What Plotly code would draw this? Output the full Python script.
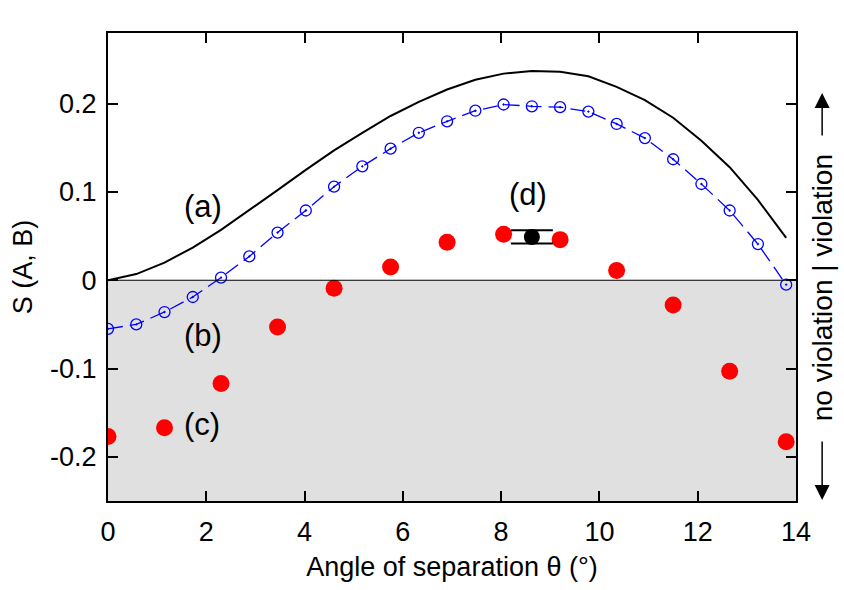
import plotly.graph_objects as go

# ---- data ----
theta = [0.0, 0.575, 1.15, 1.725, 2.3, 2.875, 3.45, 4.025, 4.6, 5.175, 5.75, 6.325,
         6.9, 7.475, 8.05, 8.625, 9.2, 9.775, 10.35, 10.925, 11.5, 12.075, 12.65,
         13.225, 13.8]
curve_a = [0.0, 0.007, 0.020, 0.037, 0.057, 0.079, 0.102, 0.125, 0.147, 0.167, 0.186,
           0.202, 0.216, 0.227, 0.234, 0.237, 0.236, 0.231, 0.219, 0.204, 0.184,
           0.158, 0.128, 0.091, 0.048]
curve_b = [-0.055, -0.050, -0.036, -0.019, 0.003, 0.027, 0.054, 0.079, 0.106, 0.129,
           0.149, 0.167, 0.180, 0.192, 0.199, 0.197, 0.196, 0.191, 0.177, 0.161,
           0.137, 0.109, 0.079, 0.041, -0.005]
theta_c = [0.0, 1.15, 2.3, 3.45, 4.6, 5.75, 6.9, 8.05, 9.2, 10.35, 11.5, 12.65, 13.8]
points_c = [-0.177, -0.167, -0.117, -0.053, -0.009, 0.015, 0.043, 0.052, 0.046,
            0.011, -0.028, -0.103, -0.183]
theta_d = [8.625]
points_d = [0.049]
err_d = [0.0075]

labels = ["(a)", "(b)", "(c)", "(d)"]
label_x = [1.94, 1.94, 1.92, 8.55]
label_y = [0.083, -0.0625, -0.163, 0.0966]

FONT = "Liberation Sans, Arial, Helvetica, sans-serif"

fig = go.Figure()

fig.add_trace(go.Scatter(x=theta, y=curve_a, mode="lines",
                         line=dict(color="black", width=2), showlegend=False))
fig.add_trace(go.Scatter(x=theta, y=curve_b, mode="lines+markers",
                         line=dict(color="#0000ff", width=1.3, dash="15px,7px"),
                         marker=dict(symbol="circle-open-dot", size=11, color="#0000ff",
                                     line=dict(width=1.3, color="#0000ff")),
                         showlegend=False))
fig.add_trace(go.Scatter(x=theta_c, y=points_c, mode="markers",
                         marker=dict(symbol="circle", size=17, color="#ff0000"),
                         showlegend=False))
fig.add_trace(go.Scatter(x=theta_d, y=points_d, mode="markers",
                         marker=dict(symbol="circle", size=16, color="black"),
                         error_y=dict(type="data", array=err_d, visible=True,
                                      color="black", thickness=2, width=21),
                         showlegend=False))

# shaded "no violation" region and zero line
fig.add_shape(type="rect", xref="paper", yref="y", x0=0, x1=1, y0=-0.25, y1=0,
              fillcolor="#e0e0e0", line=dict(width=0), layer="below")
fig.add_shape(type="line", xref="paper", yref="y", x0=0, x1=1, y0=0, y1=0,
              line=dict(color="black", width=1.2))

for t, x, y in zip(labels, label_x, label_y):
    fig.add_annotation(x=x, y=y, text=t, showarrow=False,
                       font=dict(family=FONT, size=31, color="black"))

# right-hand side label with arrows
fig.add_annotation(xref="paper", yref="paper", x=1.038, y=0.455,
                   xanchor="center", yanchor="middle",
                   text="no violation | violation", textangle=-90, showarrow=False,
                   font=dict(family=FONT, size=28, color="black"))
fig.add_annotation(xref="paper", yref="paper", x=1.038, y=0.872, text="",
                   showarrow=True, arrowhead=2, arrowsize=2, arrowwidth=1.5,
                   arrowcolor="black", ax=0, ay=44)
fig.add_annotation(xref="paper", yref="paper", x=1.038, y=0.002, text="",
                   showarrow=True, arrowhead=2, arrowsize=2, arrowwidth=1.5,
                   arrowcolor="black", ax=0, ay=-60)

axis_common = dict(showgrid=False, zeroline=False, showline=True, linecolor="black",
                   linewidth=2, mirror="ticks", ticks="inside", ticklen=10,
                   tickwidth=2, tickcolor="black",
                   tickfont=dict(family=FONT, size=27, color="black"))

fig.update_xaxes(range=[0, 14], tickvals=[0, 2, 4, 6, 8, 10, 12, 14],
                 ticklabelstandoff=6,
                 title=dict(text="Angle of separation θ (°)",
                            font=dict(family=FONT, size=27, color="black"), standoff=11),
                 **axis_common)
fig.update_yaxes(range=[-0.25, 0.28], tickvals=[-0.2, -0.1, 0, 0.1, 0.2],
                 ticktext=["-0.2", "-0.1", "0", "0.1", "0.2"],
                 ticklabelstandoff=4,
                 title=dict(text="S (A, B)",
                            font=dict(family=FONT, size=27, color="black"), standoff=10),
                 **axis_common)

fig.update_layout(width=844, height=590, plot_bgcolor="white", paper_bgcolor="white",
                  margin=dict(l=108, r=48, t=33, b=89), showlegend=False)

fig.write_html("out.html")
